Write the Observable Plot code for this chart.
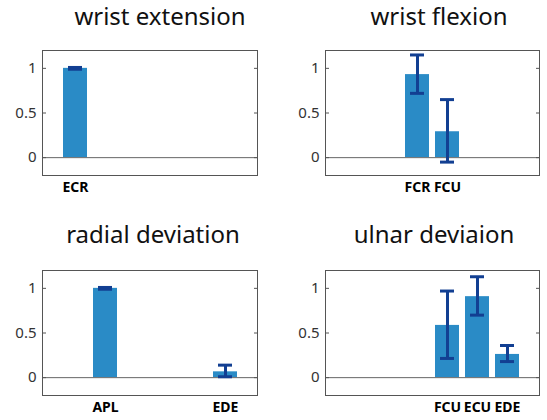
<!DOCTYPE html>
<html>
<head>
<meta charset="utf-8">
<script src="https://cdn.jsdelivr.net/npm/d3@7"></script>
<script src="https://cdn.jsdelivr.net/npm/@observablehq/plot@0.6"></script>
<style>
  body { margin: 0; background: #fff; }
  #wrap { position: relative; width: 547px; height: 420px; overflow: hidden; font-family: "Noto Sans", sans-serif; }
  .title { position: absolute; font-size: 24px; color: #111; white-space: nowrap; transform: translateX(-50%); line-height: 1; }
  .panel { position: absolute; }
</style>
</head>
<body>
<div id="wrap"></div>
<script>
// All muscle slots on the shared x axis
const muscles = ["ECR", "APL", "FCR", "FCU", "ECU", "EDE"];
const yTicks = [0, 0.5, 1];

// wrist extension
const extMuscles = ["ECR"];
const extMean = [1.0];
const extLow = [0.99];
const extHigh = [1.01];

// wrist flexion
const flexMuscles = ["FCR", "FCU"];
const flexMean = [0.93, 0.29];
const flexLow = [0.72, -0.05];
const flexHigh = [1.15, 0.65];

// radial deviation
const radMuscles = ["APL", "EDE"];
const radMean = [1.0, 0.065];
const radLow = [0.99, 0.01];
const radHigh = [1.01, 0.14];

// ulnar deviaion
const ulnMuscles = ["FCU", "ECU", "EDE"];
const ulnMean = [0.585, 0.907, 0.26];
const ulnLow = [0.215, 0.70, 0.18];
const ulnHigh = [0.97, 1.13, 0.36];

const titles = ["wrist extension", "wrist flexion", "radial deviation", "ulnar deviaion"];

const panels = [
  {title: titles[0], names: extMuscles, mean: extMean, low: extLow, high: extHigh,
   left: 0, top: 40, width: 273, ml: 42, mr: 16, tx: 160, ty: 4},
  {title: titles[1], names: flexMuscles, mean: flexMean, low: flexLow, high: flexHigh,
   left: 273, top: 40, width: 274, ml: 52, mr: 8, tx: 439, ty: 4},
  {title: titles[2], names: radMuscles, mean: radMean, low: radLow, high: radHigh,
   left: 0, top: 260, width: 273, ml: 42, mr: 16, tx: 153, ty: 222},
  {title: titles[3], names: ulnMuscles, mean: ulnMean, low: ulnLow, high: ulnHigh,
   left: 273, top: 260, width: 274, ml: 52, mr: 8, tx: 434, ty: 222}
];

const barColor = "#2a8bc6";
const errColor = "#123f92";
const wrap = document.getElementById("wrap");

for (const p of panels) {
  const data = p.names.map((m, i) => ({m, v: p.mean[i], lo: p.low[i], hi: p.high[i]}));
  const chart = Plot.plot({
    width: p.width,
    height: 160,
    marginLeft: p.ml,
    marginRight: p.mr,
    marginTop: 10,
    marginBottom: 25,
    style: {fontFamily: "'Noto Sans', sans-serif", background: "transparent", overflow: "visible"},
    x: {type: "band", domain: muscles, paddingInner: 0.2, paddingOuter: 0.6, axis: null},
    y: {domain: [-0.2, 1.2], axis: null},
    marks: [
      Plot.barY(data, {x: "m", y: "v", fill: barColor}),
      Plot.ruleY([0], {stroke: "#666", strokeWidth: 1}),
      Plot.ruleX(data, {x: "m", y1: "lo", y2: "hi", stroke: errColor, strokeWidth: 3}),
      Plot.tickY(data, {x: "m", y: "lo", stroke: errColor, strokeWidth: 3, insetLeft: 5, insetRight: 5}),
      Plot.tickY(data, {x: "m", y: "hi", stroke: errColor, strokeWidth: 3, insetLeft: 5, insetRight: 5}),
      Plot.frame({stroke: "#555", strokeWidth: 1}),
      Plot.axisY(yTicks, {anchor: "left", tickSize: 4, dx: 4, stroke: "#555", tickFormat: () => "", label: null}),
      Plot.axisY(yTicks, {anchor: "right", tickSize: 4, dx: -4, stroke: "#555", tickFormat: () => "", label: null}),
      Plot.text(yTicks, {y: d => d, text: d => String(d), frameAnchor: "left", textAnchor: "end", dx: -6,
                         fontSize: 15, fill: "#333"}),
      Plot.text(p.names, {x: d => d, text: d => d, frameAnchor: "bottom", lineAnchor: "top", dy: 7,
                          fontSize: 14, fontWeight: "bold", fill: "#000"})
    ]
  });
  chart.classList.add("panel");
  chart.style.left = p.left + "px";
  chart.style.top = p.top + "px";
  wrap.appendChild(chart);

  const t = document.createElement("div");
  t.className = "title";
  t.textContent = p.title;
  t.style.left = p.tx + "px";
  t.style.top = p.ty + "px";
  wrap.appendChild(t);
}
</script>
</body>
</html>
